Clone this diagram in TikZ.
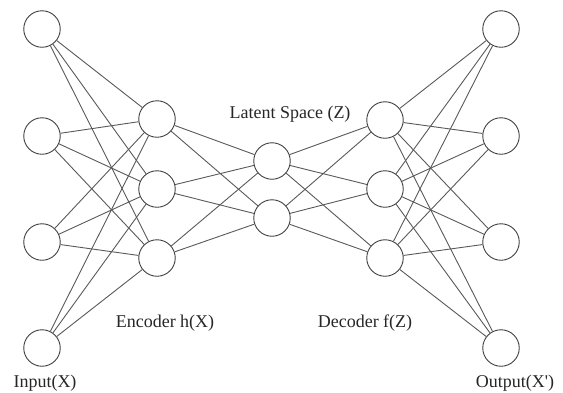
\documentclass[tikz,border=0pt]{standalone}
\usepackage{fontspec}
\setmainfont{Liberation Serif}
\begin{document}
\begin{tikzpicture}[x=1pt,y=-1pt,
  neuron/.style={circle,draw=black!75,line width=0.9pt,minimum size=36.5pt,inner sep=0pt,fill=white},
  conn/.style={draw=black!65,line width=0.9pt},
  lbl/.style={font=\fontsize{18}{21}\selectfont,text=black!85,inner sep=0pt}]
\useasboundingbox (0,0) rectangle (563,392);
% input layer
\node[neuron] (i1) at (42,29) {};
\node[neuron] (i2) at (42,136) {};
\node[neuron] (i3) at (42,242) {};
\node[neuron] (i4) at (42,348) {};
% encoder
\node[neuron] (e1) at (157,119) {};
\node[neuron] (e2) at (157,189) {};
\node[neuron] (e3) at (157,258) {};
% latent
\node[neuron] (z1) at (272,161) {};
\node[neuron] (z2) at (272,218) {};
% decoder
\node[neuron] (d1) at (385,120) {};
\node[neuron] (d2) at (385,189) {};
\node[neuron] (d3) at (385,258) {};
% output
\node[neuron] (o1) at (501,29) {};
\node[neuron] (o2) at (501,136) {};
\node[neuron] (o3) at (501,242) {};
\node[neuron] (o4) at (501,348) {};
\foreach \a in {i1,i2,i3,i4}{\foreach \b in {e1,e2,e3}{\draw[conn] (\a) -- (\b);}}
\foreach \a in {e1,e2,e3}{\foreach \b in {z1,z2}{\draw[conn] (\a) -- (\b);}}
\foreach \a in {z1,z2}{\foreach \b in {d1,d2,d3}{\draw[conn] (\a) -- (\b);}}
\foreach \a in {d1,d2,d3}{\foreach \b in {o1,o2,o3,o4}{\draw[conn] (\a) -- (\b);}}
\node[lbl] (tl) at (290,114) {Latent Space (Z)};
\node[lbl] (te) at (165,323) {Encoder h(X)};
\node[lbl] (td) at (365,323) {Decoder f(Z)};
\node[lbl] (ti) at (45,383) {Input(X)};
\node[lbl] (to) at (515,383) {Output(X\textquotesingle)};
\end{tikzpicture}
\end{document}
